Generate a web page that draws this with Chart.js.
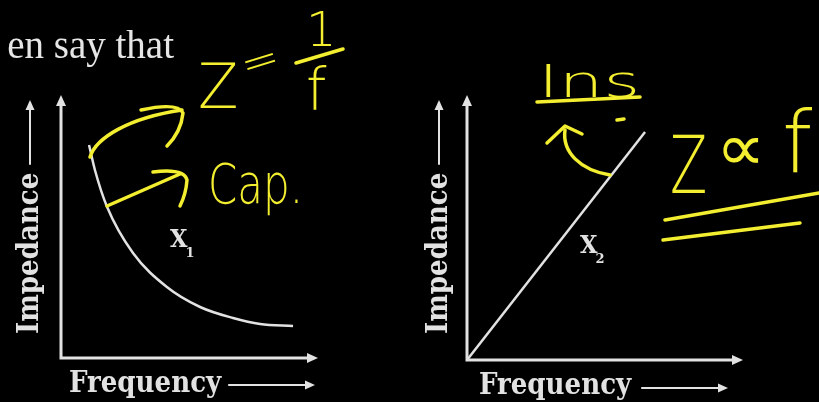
<!DOCTYPE html>
<html>
<head>
<meta charset="utf-8">
<script src="https://cdn.jsdelivr.net/npm/chart.js@4.4.1/dist/chart.umd.min.js"></script>
<style>
  html, body { margin: 0; background: #000; }
  #page { position: relative; width: 819px; height: 402px; background: #000; overflow: hidden; }
  .panel { position: absolute; top: 0; height: 402px; }
  #leftBox { left: 0; width: 410px; }
  #rightBox { left: 410px; width: 409px; }
</style>
</head>
<body>
<div id="page">
  <div class="panel" id="leftBox"><canvas id="capChart"></canvas></div>
  <div class="panel" id="rightBox"><canvas id="indChart"></canvas></div>
</div>
<script>
// X1: capacitive reactance, falls away as frequency rises
const capFreq = [1.15, 1.39, 1.89, 2.95, 4.34, 5.70, 7.05, 8.16, 9.51];
const capImpedance = [8.52, 7.52, 6.04, 4.20, 2.84, 2.04, 1.60, 1.36, 1.28];
// X2: inductive reactance, straight line out of the origin
const indFreq = [0, 6.77];
const indImpedance = [0, 9.05];

const axisTitleY = "Impedance";
const axisTitleX = "Frequency";
const curveNames = ["X", "X"];
const curveSubs = ["1", "2"];

const WHITE = "#e2e2e2";
const YELLOW = "#f3ee30";
const SERIF_BOLD = 'bold 29px "DejaVu Serif Condensed", "DejaVu Serif", serif';
const PEN_FONT = '"DejaVu Sans", sans-serif';

function toPoints(xs, ys) {
  return xs.map((x, i) => ({ x, y: ys[i] }));
}

function arrowHead(ctx, x, y, dir, len = 11, half = 5) {
  ctx.beginPath();
  if (dir === "up") {
    ctx.moveTo(x, y); ctx.lineTo(x - half, y + len); ctx.lineTo(x + half, y + len);
  } else {
    ctx.moveTo(x, y); ctx.lineTo(x - len, y - half); ctx.lineTo(x - len, y + half);
  }
  ctx.closePath();
  ctx.fill();
}

// axes with arrow tips, the axis titles with their arrows, and the curve label
const sketchAxes = {
  id: "sketchAxes",
  afterDatasetsDraw(chart, args, opts) {
    const { ctx, chartArea: { left, right, top, bottom } } = chart;
    ctx.save();
    ctx.strokeStyle = WHITE;
    ctx.fillStyle = WHITE;
    ctx.lineWidth = 3;
    ctx.beginPath();
    ctx.moveTo(left, top - 4);
    ctx.lineTo(left, bottom);
    ctx.lineTo(right + 4, bottom);
    ctx.stroke();
    arrowHead(ctx, left, top - 13, "up");
    arrowHead(ctx, right + 13, bottom, "right");

    ctx.font = SERIF_BOLD;
    ctx.textBaseline = "middle";
    ctx.textAlign = "left";
    ctx.lineWidth = 2;

    // y title reads bottom to top, then an arrow carries on upward
    const yx = left + opts.yTitleDx;
    ctx.save();
    ctx.translate(yx, opts.yTitleBottom);
    ctx.rotate(-Math.PI / 2);
    ctx.fillText(axisTitleY, 0, 0);
    const yw = ctx.measureText(axisTitleY).width;
    ctx.restore();
    ctx.beginPath();
    ctx.moveTo(yx, opts.yTitleBottom - yw - 8);
    ctx.lineTo(yx, top - 6);
    ctx.stroke();
    arrowHead(ctx, yx, top - 8, "up", 10, 4.5);

    // x title, then arrow to the right
    const xx = left + opts.xTitleDx;
    ctx.fillText(axisTitleX, xx, opts.xTitleY);
    const xw = ctx.measureText(axisTitleX).width;
    ctx.beginPath();
    ctx.moveTo(xx + xw + opts.xArrowGap, opts.xArrowY);
    ctx.lineTo(opts.xArrowEnd - 4, opts.xArrowY);
    ctx.stroke();
    arrowHead(ctx, opts.xArrowEnd, opts.xArrowY, "right", 10, 4.5);

    // curve name with subscript
    const i = opts.curve;
    const lx = chart.scales.x.getPixelForValue(opts.labelAt[0]);
    const ly = chart.scales.y.getPixelForValue(opts.labelAt[1]);
    ctx.textBaseline = "alphabetic";
    ctx.font = 'bold 25px "DejaVu Serif Condensed", "DejaVu Serif", serif';
    ctx.fillText(curveNames[i], lx, ly);
    const nw = ctx.measureText(curveNames[i]).width;
    ctx.font = 'bold 13px "DejaVu Serif", serif';
    ctx.fillText(curveSubs[i], lx + nw - 2, ly + 10);
    ctx.restore();
  }
};

function pen(ctx) {
  ctx.strokeStyle = YELLOW;
  ctx.fillStyle = YELLOW;
  ctx.lineWidth = 3.5;
  ctx.lineCap = "round";
  ctx.lineJoin = "round";
  ctx.textAlign = "left";
  ctx.textBaseline = "alphabetic";
}

function stroke(ctx, pts) {
  ctx.beginPath();
  ctx.moveTo(pts[0], pts[1]);
  for (let k = 2; k < pts.length; k += 2) ctx.lineTo(pts[k], pts[k + 1]);
  ctx.stroke();
}

function penText(ctx, text, x, y, size, sx = 1, rot = 0) {
  ctx.save();
  ctx.translate(x, y);
  ctx.rotate(rot);
  ctx.scale(sx, 1);
  ctx.font = `200 ${size}px ${PEN_FONT}`;
  ctx.fillText(text, 0, 0);
  ctx.restore();
}

// heading fragment and the marker notes on the capacitor plot
const capNotes = {
  id: "capNotes",
  afterDraw(chart) {
    const ctx = chart.ctx;
    ctx.save();
    ctx.fillStyle = "#e6e6e6";
    ctx.font = '39px "Liberation Serif", serif';
    ctx.textAlign = "right";
    ctx.textBaseline = "alphabetic";
    ctx.fillText("en say that", 174, 58);

    pen(ctx);
    // Z = 1/f
    penText(ctx, "Z", 198, 108, 62, 0.95);
    penText(ctx, "=", 246, 81, 46, 1, -0.3);
    penText(ctx, "1", 306, 46, 48);
    stroke(ctx, [296, 63, 343, 49]);
    penText(ctx, "f", 306, 110, 58);
    // Cap.
    penText(ctx, "Cap.", 208, 203, 56, 0.75);

    // two arrows leaving the top of the curve
    ctx.beginPath();
    ctx.moveTo(90, 157);
    ctx.bezierCurveTo(96, 138, 128, 118, 182, 110);
    ctx.stroke();
    ctx.beginPath();
    ctx.moveTo(141, 110);
    ctx.quadraticCurveTo(178, 102, 183, 113);
    ctx.quadraticCurveTo(181, 132, 167, 146);
    ctx.stroke();
    stroke(ctx, [107, 206, 180, 174]);
    ctx.beginPath();
    ctx.moveTo(153, 172);
    ctx.quadraticCurveTo(184, 168, 187, 180);
    ctx.quadraticCurveTo(186, 194, 180, 206);
    ctx.stroke();
    ctx.restore();
  }
};

// marker notes on the inductor plot
const indNotes = {
  id: "indNotes",
  afterDraw(chart) {
    const ctx = chart.ctx;
    ctx.save();
    pen(ctx);
    penText(ctx, "Ins", 128, 97, 44, 1.6);
    stroke(ctx, [127, 102, 230, 97]);
    stroke(ctx, [207, 120, 214, 119]);
    ctx.beginPath();
    ctx.moveTo(200, 175);
    ctx.bezierCurveTo(170, 170, 152, 152, 155, 130);
    ctx.stroke();
    stroke(ctx, [137, 143, 155, 126, 172, 134]);

    // Z ∝ f
    penText(ctx, "Z", 260, 193, 80, 0.68);
    penText(ctx, "\u221D", 306, 170, 66, 1.05);
    penText(ctx, "f", 372, 172, 86);
    stroke(ctx, [255, 220, 409, 193]);
    stroke(ctx, [253, 240, 390, 223]);
    ctx.restore();
  }
};

function baseOptions(padding, axesOpts) {
  return {
    responsive: true,
    maintainAspectRatio: false,
    animation: false,
    devicePixelRatio: 1,
    layout: { padding },
    plugins: {
      legend: { display: false },
      tooltip: { enabled: false },
      sketchAxes: axesOpts
    },
    scales: {
      x: { type: "linear", min: 0, max: 10, display: false },
      y: { type: "linear", min: 0, max: 10, display: false }
    }
  };
}

new Chart(document.getElementById("capChart"), {
  type: "line",
  data: {
    datasets: [{
      data: toPoints(capFreq, capImpedance),
      borderColor: WHITE,
      borderWidth: 2.5,
      pointRadius: 0,
      cubicInterpolationMode: "monotone"
    }]
  },
  options: baseOptions(
    { left: 61, right: 105, top: 108, bottom: 44 },
    { yTitleDx: -31, yTitleBottom: 334, xTitleDx: 8, xTitleY: 384,
      xArrowGap: 7, xArrowY: 385, xArrowEnd: 315, curve: 0, labelAt: [4.47, 4.44] }
  ),
  plugins: [sketchAxes, capNotes]
});

new Chart(document.getElementById("indChart"), {
  type: "line",
  data: {
    datasets: [{
      data: toPoints(indFreq, indImpedance),
      borderColor: WHITE,
      borderWidth: 2.5,
      pointRadius: 0
    }]
  },
  options: baseOptions(
    { left: 57, right: 89, top: 108, bottom: 42 },
    { yTitleDx: -28, yTitleBottom: 334, xTitleDx: 12, xTitleY: 386,
      xArrowGap: 10, xArrowY: 388, xArrowEnd: 318, curve: 1, labelAt: [4.30, 4.25] }
  ),
  plugins: [sketchAxes, indNotes]
});
</script>
</body>
</html>
